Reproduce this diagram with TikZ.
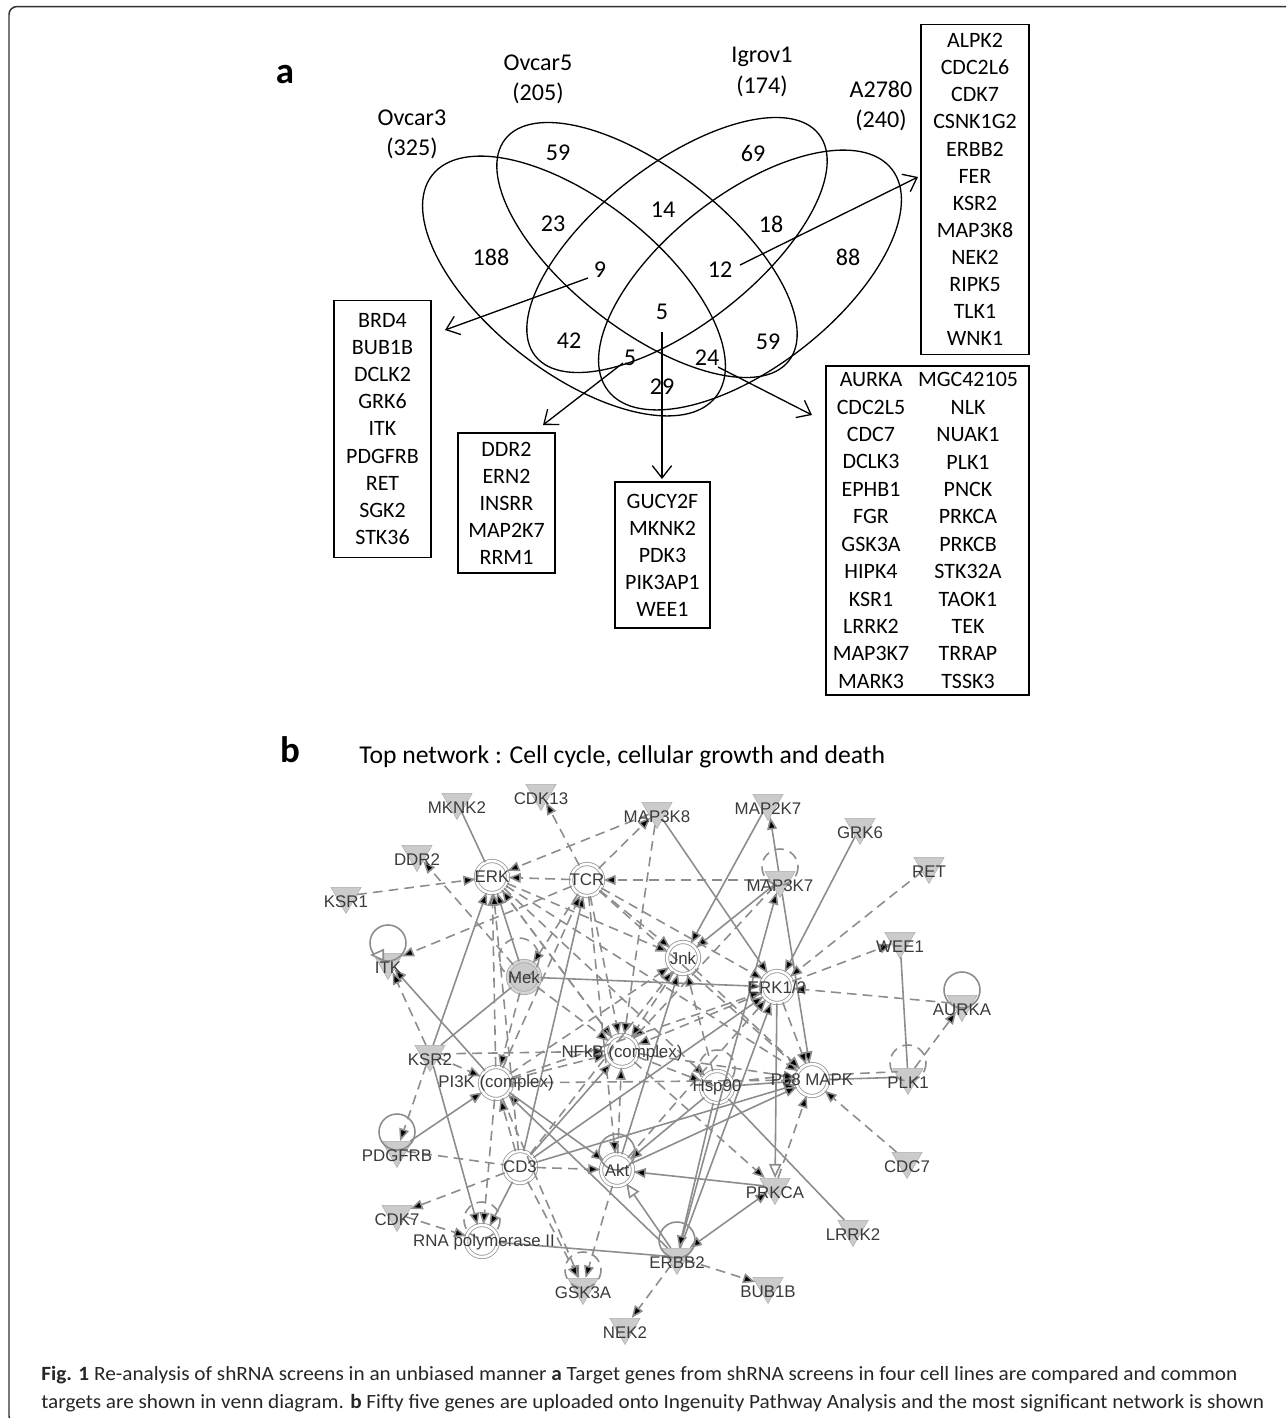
\documentclass[tikz,border=0pt]{standalone}
\usepackage{fontspec}
\usepackage{graphicx}
\setmainfont{Carlito}
\newfontfamily\netfont{Liberation Sans}
\newfontfamily\capfont[FakeStretch=1.05]{Carlito}
\usetikzlibrary{arrows.meta,shapes.geometric}
\definecolor{edgegray}{HTML}{8C8C8C}
\definecolor{trigray}{HTML}{CBCBCB}
\definecolor{netlabel}{HTML}{3A3A3A}
\definecolor{framegray}{HTML}{303030}

\begin{document}
\begin{tikzpicture}[x=0.02cm, y=-0.02cm,
  >={Triangle[length=7pt,width=5.6pt]},
  venn/.style={line width=0.75pt},
  vnum/.style={font=\fontsize{13.7}{16}\selectfont, inner sep=0pt},
  vlab/.style={font=\fontsize{13.7}{17.2}\selectfont, align=center, inner sep=0pt},
  setbox/.style={draw, line width=0.75pt, align=center, inner sep=0pt, font=\fontsize{12.5}{15.4}\selectfont},
  settext/.style={align=center, inner sep=0pt, font=\fontsize{12.5}{15.6}\selectfont},
  pointer/.style={line width=0.75pt, -{Straight Barb[length=7pt,width=11pt]}},
  panel/.style={font=\bfseries\fontsize{21}{24}\selectfont, inner sep=0pt},
  gene/.style={regular polygon, regular polygon sides=3, shape border rotate=180,
    minimum size=0.7cm, inner sep=0pt, fill=trigray, draw=trigray!85!black, line width=0.3pt},
  hub/.style={circle, minimum size=0.64cm, inner sep=0pt, fill=white, draw=edgegray!85,
    line width=0.5pt, double=white, double distance=1.4pt},
  glabel/.style={font=\netfont\fontsize{9.6}{11}\selectfont, text=netlabel, inner sep=0pt},
  drct/.style={draw=edgegray, line width=0.9pt},
  indr/.style={drct, dash pattern=on 5.5pt off 3.5pt},
  opentip/.style={-{Triangle[open,length=8pt,width=7pt,fill=white]}},
  capline/.style={font=\capfont\fontsize{10.2}{12}\selectfont, text=black!85, inner sep=0pt, anchor=west}
  ]
  \useasboundingbox (0,0) rectangle (1287,1418);

  % Outer frame (open on the right and bottom)
  \draw[framegray, line width=0.85pt, rounded corners=0.16cm]
    (1286,6.5) -- (9,6.5) -- (9,1424) -- (30,1424);

  % ---------------- Panel a : Venn diagram ----------------
  \node[panel] (pa) at (285,75) {a};

  % Ellipses
  \draw[venn, rotate around={-38:(574,286)}] (574,286) ellipse [x radius=180, y radius=86];    % Ovcar3
  \draw[venn, rotate around={-38:(647,250)}] (647,250) ellipse [x radius=180, y radius=80];    % Ovcar5
  \draw[venn, rotate around={38:(677,245)}] (677,245) ellipse [x radius=180, y radius=80];     % Igrov1
  \draw[venn, rotate around={38:(750,280)}] (750,280) ellipse [x radius=180, y radius=86];     % A2780

  % Set labels
  \node[vlab] (lOvcar3) at (412,134) {Ovcar3\\(325)};
  \node[vlab] (lOvcar5) at (538,79) {Ovcar5\\(205)};
  \node[vlab] (lIgrov1) at (762,72) {Igrov1\\(174)};
  \node[vlab] (lA2780) at (881,106) {A2780\\(240)};

  % Region counts
  \node[vnum] (n59a) at (558,153) {59};
  \node[vnum] (n69) at (753,153) {69};
  \node[vnum] (n14) at (663,210) {14};
  \node[vnum] (n23) at (553,224) {23};
  \node[vnum] (n18) at (771,224) {18};
  \node[vnum] (n188) at (491,257) {188};
  \node[vnum] (n88) at (848,257) {88};
  \node[vnum] (n9) at (600,270) {9};
  \node[vnum] (n12) at (720,270) {12};
  \node[vnum] (n5a) at (662,312) {5};
  \node[vnum] (n42) at (569,341) {42};
  \node[vnum] (n59b) at (768,342) {59};
  \node[vnum] (n5b) at (630,358) {5};
  \node[vnum] (n24) at (707,358) {24};
  \node[vnum] (n29) at (662,387) {29};

  % Gene lists
  \node[setbox, minimum width=1.94cm, minimum height=5.14cm] (setBRD) at (382.5,429) {BRD4\\BUB1B\\DCLK2\\GRK6\\ITK\\PDGFRB\\RET\\SGK2\\STK36};
  \node[setbox, minimum width=1.94cm, minimum height=2.8cm] (setDDR) at (506.5,503) {DDR2\\ERN2\\INSRR\\MAP2K7\\RRM1};
  \node[setbox, minimum width=1.9cm, minimum height=2.92cm] (setGUCY) at (662.5,555) {GUCY2F\\MKNK2\\PDK3\\PIK3AP1\\WEE1};
  \node[setbox, minimum width=2.16cm, minimum height=6.6cm] (setALPK) at (975,189.5) {ALPK2\\CDC2L6\\CDK7\\CSNK1G2\\ERBB2\\FER\\KSR2\\MAP3K8\\NEK2\\RIPK5\\TLK1\\WNK1};
  \node[setbox, minimum width=4.06cm, minimum height=6.58cm] (setAUR) at (927.5,530.5) {};
  \node[settext] (setAURl) at (871,530.5) {AURKA\\CDC2L5\\CDC7\\DCLK3\\EPHB1\\FGR\\GSK3A\\HIPK4\\KSR1\\LRRK2\\MAP3K7\\MARK3};
  \node[settext] (setAURr) at (968,530.5) {MGC42105\\NLK\\NUAK1\\PLK1\\PNCK\\PRKCA\\PRKCB\\STK32A\\TAOK1\\TEK\\TRRAP\\TSSK3};

  % Pointers from regions to lists
  \coordinate (p9) at (588,278);
  \coordinate (p9e) at (445,330);
  \coordinate (p12) at (740,265);
  \coordinate (p12e) at (918,177);
  \coordinate (p5b) at (623,363);
  \coordinate (p5be) at (543,425);
  \coordinate (p5a) at (662,332);
  \coordinate (p5ae) at (662,479);
  \coordinate (p24) at (718,367);
  \coordinate (p24e) at (812,415);
  \draw[pointer] (p9) -- (p9e);
  \draw[pointer] (p12) -- (p12e);
  \draw[pointer] (p5b) -- (p5be);
  \draw[pointer] (p5a) -- (p5ae);
  \draw[pointer] (p24) -- (p24e);

  % ---------------- Panel b : network ----------------
  \node[panel] (pb) at (290,750) {b};
  \node[font=\fontsize{14.6}{17}\selectfont, inner sep=0pt, anchor=west] (title) at (359,757) {Top network : Cell cycle, cellular growth and death};

  % Hub (circle) nodes
  \node[hub] (ERK) at (492,877) {};
  \node[hub] (TCR) at (587,880) {};
  \node[hub, fill=trigray, draw=gray!65, double=trigray!80] (Mek) at (524,977) {};
  \node[hub] (Jnk) at (683,958) {};
  \node[hub] (ERK12) at (777,987) {};
  \node[hub] (NFkB) at (622,1051) {};
  \node[hub] (PI3K) at (496,1083) {};
  \node[hub] (Hsp90) at (717,1087) {};
  \node[hub] (P38) at (812,1080) {};
  \node[hub] (CD3) at (520,1167) {};
  \node[hub] (Akt) at (617,1170) {};
  \node[hub] (RNApol) at (482,1241) {};

  % Gene (triangle) nodes
  \node[gene] (MKNK2) at (457,802) {};
  \node[gene] (CDK13) at (541,793) {};
  \node[gene] (MAP3K8) at (657,811) {};
  \node[gene] (MAP2K7) at (768,803) {};
  \node[gene] (GRK6) at (860,827) {};
  \node[gene] (RET) at (929,866) {};
  \node[gene] (DDR2) at (417,854) {};
  \node[gene] (KSR1) at (346,896) {};
  \node[gene] (MAP3K7) at (780,880) {};
  \node[gene] (ITK) at (388,962) {};
  \node[gene] (WEE1) at (900,941) {};
  \node[gene] (AURKA) at (962,1004) {};
  \node[gene] (KSR2) at (430,1054) {};
  \node[gene] (PLK1) at (908,1077) {};
  \node[gene] (PDGFRB) at (397,1150) {};
  \node[gene] (CDC7) at (907,1161) {};
  \node[gene] (PRKCA) at (775,1187) {};
  \node[gene] (CDK7) at (397,1214) {};
  \node[gene] (LRRK2) at (853,1229) {};
  \node[gene] (ERBB2) at (677,1257) {};
  \node[gene] (GSK3A) at (583,1287) {};
  \node[gene] (BUB1B) at (768,1286) {};
  \node[gene] (NEK2) at (625,1327) {};

  % Direct relations (solid)
  \draw[drct] (ERK) -- (MKNK2);
  \draw[drct,->] (KSR2) edge (ERK) edge[-] (Mek) edge (RNApol);
  \draw[drct,->] (Mek) edge (ERK) edge (ERK12);
  \draw[drct,->] (MAP2K7) edge (Jnk);
  \draw[drct,->] (MAP3K7) edge (Jnk) edge (MAP2K7) edge (P38);
  \draw[drct,->] (MAP3K8) edge (ERK12);
  \draw[drct,->] (GRK6) edge (ERK12);
  \draw[drct,opentip] (ERK12) -- (PRKCA);
  \draw[drct,->] (ERBB2) edge (ERK12) edge (MAP3K7) edge (PI3K) edge[<->] (PRKCA);
  \draw[drct,opentip] (ERBB2) -- (Akt);
  \draw[drct] (WEE1) -- (PLK1);
  \draw[drct] (P38) -- (PLK1);
  \draw[drct] (Hsp90) -- (P38);
  \draw[drct] (Hsp90) -- (LRRK2);
  \draw[drct,->] (Hsp90) edge (ERBB2) edge (Akt);
  \draw[drct,->] (PDGFRB) edge (PI3K);
  \draw[drct,->] (PI3K) edge (ITK) edge (Akt);
  \draw[drct,->] (CD3) edge (TCR) edge (RNApol) edge (NFkB) edge (ERK12) edge (P38);
  \draw[drct] (RNApol) -- (ERBB2);
  \draw[drct,->] (PRKCA) edge (Akt);
  \draw[drct,->] (Akt) edge (Jnk) edge (P38);

  % Indirect relations (dashed)
  \draw[indr,->] (TCR) edge (CDK13) edge (MAP3K8) edge (ERK) edge (ITK) edge (Mek)
    edge (Jnk) edge (ERK12) edge (NFkB) edge (Akt) edge (P38);
  \draw[indr,->] (MAP3K8) edge (ERK) edge (NFkB);
  \draw[indr,->] (KSR1) edge (ERK);
  \draw[indr,->] (Mek) edge (DDR2) edge (NFkB) edge (PI3K);
  \draw[indr,->] (MAP3K7) edge (TCR) edge (NFkB);
  \draw[indr,->] (ERK) edge (NFkB) edge (Jnk) edge (P38) edge (Hsp90);
  \draw[indr,->] (PI3K) edge (ERK) edge (TCR) edge (Jnk) edge (NFkB) edge (P38)
    edge (GSK3A) edge (RNApol) edge (ERK12);
  \draw[indr,->] (CD3) edge (ERK) edge (CDK7) edge (Akt) edge (GSK3A) edge (PI3K) edge (Jnk);
  \draw[indr,->] (RET) edge (ERK12);
  \draw[indr,->] (ERK12) edge (WEE1) edge (P38) edge (NFkB);
  \draw[indr,->] (AURKA) edge (ERK12);
  \draw[indr,->] (PLK1) edge (AURKA);
  \draw[indr] ([yshift=3pt]P38.east) -- ([yshift=3pt]PLK1.west);
  \draw[indr] ([yshift=3pt]Hsp90.east) -- ([yshift=3pt]P38.west);
  \draw[indr,->] (Jnk) edge (NFkB) edge (P38);
  \draw[indr,->] (Hsp90) edge (Jnk);
  \draw[indr,->] (NFkB) edge (Hsp90) edge (PRKCA) edge (P38) edge (ERK);
  \draw[indr,->] (KSR2) edge (PDGFRB) edge (NFkB) edge (PI3K) edge (ITK);
  \draw[indr] (PDGFRB) -- (CD3);
  \draw[indr,->] (CDK7) edge (RNApol);
  \draw[indr,->] (Akt) edge (GSK3A) edge (NFkB) edge (ERK12);
  \draw[indr,->] (ERBB2) edge (NEK2) edge (BUB1B);
  \draw[indr,->] (CDC7) edge (P38);
  \draw[indr,->] (PRKCA) edge (P38);

  % Self loops
  \draw[drct] (ITK.center) ++(0,-19) circle [radius=18];
  \draw[drct,opentip] (381,955) -- (370,955);
  \draw[indr] (MAP3K7.center) ++(0,-13) circle [radius=18];
  \draw[drct] (AURKA.center) ++(0,-14) circle [radius=18];
  \draw[indr] (PLK1.center) ++(0,-14) circle [radius=18];
  \draw[drct] (PDGFRB.center) ++(0,-18) circle [radius=18];
  \draw[drct] (Akt.center) ++(0,-18) circle [radius=18];
  \draw[drct] (ERBB2.center) ++(0,-17) circle [radius=18];
  \draw[indr] (GSK3A.center) ++(0,-17) circle [radius=18];
  \draw[indr] (RNApol.center) ++(0,-21) circle [radius=18];
  \draw[indr] (Hsp90.center) ++(0,-19) circle [radius=18];
  \draw[indr] (Mek.center) ++(-5,-19) circle [radius=20];

  % Labels
  \node[glabel] (ERK-t) at (ERK) {ERK};
  \node[glabel] (TCR-t) at (TCR) {TCR};
  \node[glabel] (Mek-t) at (Mek) {Mek};
  \node[glabel] (Jnk-t) at (Jnk) {Jnk};
  \node[glabel] (ERK12-t) at (ERK12) {ERK1/2};
  \node[glabel] (NFkB-t) at (622,1053) {NFkB (complex)};
  \node[glabel] (PI3K-t) at (PI3K) {PI3K (complex)};
  \node[glabel] (Hsp90-t) at (Hsp90) {Hsp90};
  \node[glabel] (P38-t) at (P38) {P38 MAPK};
  \node[glabel] (CD3-t) at (CD3) {CD3};
  \node[glabel] (Akt-t) at (Akt) {Akt};
  \node[glabel] (RNApol-t) at (484,1242) {RNA polymerase II};
  \node[glabel] (MKNK2-t) at (457,808) {MKNK2};
  \node[glabel] (CDK13-t) at (541,799) {CDK13};
  \node[glabel] (MAP3K8-t) at (657,817) {MAP3K8};
  \node[glabel] (MAP2K7-t) at (768,809) {MAP2K7};
  \node[glabel] (GRK6-t) at (860,833) {GRK6};
  \node[glabel] (RET-t) at (929,872) {RET};
  \node[glabel] (DDR2-t) at (417,860) {DDR2};
  \node[glabel] (KSR1-t) at (346,902) {KSR1};
  \node[glabel] (MAP3K7-t) at (780,886) {MAP3K7};
  \node[glabel] (ITK-t) at (388,968) {ITK};
  \node[glabel] (WEE1-t) at (900,947) {WEE1};
  \node[glabel] (AURKA-t) at (962,1010) {AURKA};
  \node[glabel] (KSR2-t) at (430,1060) {KSR2};
  \node[glabel] (PLK1-t) at (908,1083) {PLK1};
  \node[glabel] (PDGFRB-t) at (397,1156) {PDGFRB};
  \node[glabel] (CDC7-t) at (907,1167) {CDC7};
  \node[glabel] (PRKCA-t) at (775,1193) {PRKCA};
  \node[glabel] (CDK7-t) at (397,1220) {CDK7};
  \node[glabel] (LRRK2-t) at (853,1235) {LRRK2};
  \node[glabel] (ERBB2-t) at (677,1263) {ERBB2};
  \node[glabel] (GSK3A-t) at (583,1293) {GSK3A};
  \node[glabel] (BUB1B-t) at (768,1292) {BUB1B};
  \node[glabel] (NEK2-t) at (625,1333) {NEK2};

  % Caption
  \node[capline] (cap1) at (41,1375) {\resizebox{23.92cm}{!}{\textbf{Fig. 1} Re-analysis of shRNA screens in an unbiased manner \textbf{a} Target genes from shRNA screens in four cell lines are compared and common}};
  \node[capline] (cap2) at (41,1403) {\resizebox{24.46cm}{!}{targets are shown in venn diagram. \textbf{b} Fifty five genes are uploaded onto Ingenuity Pathway Analysis and the most significant network is shown}};

\end{tikzpicture}
\end{document}
